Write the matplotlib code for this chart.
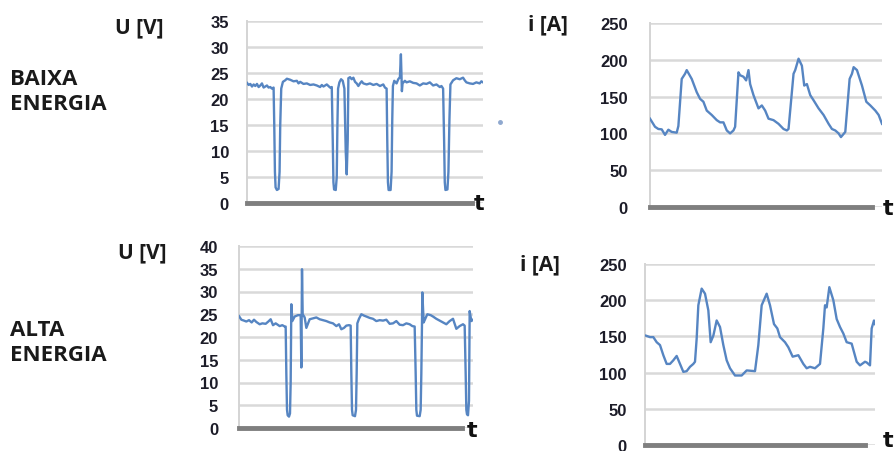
import matplotlib.pyplot as plt
from matplotlib.lines import Line2D

W, H = 895, 452

# --- data (t in arbitrary sample units) ---
t_u_baixa = [0, 5, 10, 15, 20, 25, 30, 35, 40, 45, 50, 55, 60, 65, 70, 75, 80, 82, 84, 86, 90, 95, 98, 100,
             103, 108, 115, 120, 130, 140, 150, 155, 160, 170, 180, 190, 200, 210, 220, 225, 230, 240, 250,
             255, 258, 260, 262, 267, 270, 272, 274, 278, 283, 288, 293, 297, 300, 303, 305, 310, 315, 320,
             325, 330, 335, 340, 345, 350, 360, 370, 380, 390, 400, 410, 415, 420, 422, 424, 426, 432, 435,
             437, 439, 443, 450, 455, 460, 463, 465, 466, 468, 475, 480, 490, 500, 510, 520, 530, 540, 550,
             560, 570, 580, 585, 590, 593, 595, 597, 603, 606, 609, 612, 620, 630, 640, 650, 655, 660, 670,
             680, 690, 700, 705, 710]
u_baixa = [23.1, 22.7, 22.9, 22.4, 22.8, 22.5, 22.9, 22.3, 22.6, 23.0, 22.2, 22.4, 22.6, 22.2, 22.3, 22.0,
           22.2, 15, 6, 3.0, 2.5, 2.7, 6, 15, 22.0, 23.3, 23.6, 23.9, 23.7, 23.4, 23.5, 23.0, 23.3, 22.9, 23.0,
           22.7, 22.8, 22.6, 22.3, 22.7, 22.4, 22.8, 22.2, 22.3, 12, 4, 2.6, 2.5, 5, 15, 22.0, 23.2, 23.8, 23.5,
           22.0, 10, 5.5, 12, 24.0, 24.2, 23.8, 24.1, 23.3, 23.0, 22.5, 23.0, 23.4, 23.0, 22.8, 23.0, 22.7,
           22.9, 22.5, 22.8, 22.2, 22.0, 12, 4, 2.5, 2.5, 6, 16, 22.5, 23.5, 23.0, 23.8, 24.2, 28.6, 24.0, 21.5,
           23.0, 23.5, 23.2, 23.4, 23.1, 23.0, 22.6, 23.0, 22.9, 23.2, 22.6, 22.8, 22.3, 22.5, 22.0, 12, 4,
           2.5, 2.6, 6, 16, 22.8, 23.6, 24.0, 23.8, 24.1, 23.6, 23.2, 23.0, 22.9, 23.2, 23.0, 23.4, 23.2]

t_i_baixa = [0, 15, 25, 35, 45, 55, 65, 80, 85, 95, 105, 110, 125, 140, 150, 160, 170, 185, 200, 210, 220,
             230, 240, 250, 255, 265, 270, 280, 288, 295, 300, 310, 325, 335, 345, 355, 370, 385, 400, 410,
             415, 430, 435, 445, 455, 462, 470, 480, 490, 505, 520, 535, 545, 555, 565, 572, 585, 598, 605,
             610, 620, 635, 648, 660, 675, 685, 695]
i_baixa = [120, 109, 106, 105.5, 98, 105, 102, 101, 110, 174, 181, 186, 174, 156, 147, 143, 131, 125, 118,
           115, 115, 104, 100, 104, 109, 183, 179, 177, 172, 186, 167, 152, 134, 138, 131, 120, 118, 113,
           106, 104, 106, 181, 186, 201.5, 192, 165, 167, 152, 145, 134, 125, 113, 106, 104, 100, 95, 102,
           174, 181, 190, 186, 165, 143, 138, 131, 125, 113]

t_u_alta = [0, 7, 15, 22, 30, 38, 45, 52, 62, 70, 80, 88, 95, 102, 110, 122, 130, 137, 140, 142, 144, 146,
            150, 153, 155, 157, 160, 167, 177, 185, 187, 189, 191, 197, 202, 212, 222, 232, 242, 252, 262,
            272, 282, 292, 300, 307, 315, 322, 330, 335, 337, 339, 341, 348, 351, 353, 355, 360, 367, 375,
            382, 392, 402, 412, 422, 432, 442, 452, 462, 472, 482, 492, 502, 512, 520, 527, 530, 532, 534,
            542, 545, 547, 549, 550, 554, 560, 565, 575, 582, 592, 602, 612, 622, 632, 642, 652, 662, 672,
            677, 680, 682, 684, 687, 690, 692, 697, 702]
u_alta = [24.6, 23.8, 23.6, 23.4, 23.7, 23.2, 23.8, 23.3, 22.8, 23.0, 22.9, 23.4, 23.9, 22.6, 23.0, 22.4,
          22.6, 22.3, 22.3, 12, 4, 2.8, 2.5, 3.2, 10, 27.2, 23.5, 24.5, 24.8, 24.8, 13.3, 34.9, 25, 24.3,
          22.0, 23.9, 24.1, 24.3, 23.9, 23.7, 23.5, 23.2, 23.0, 22.4, 22.8, 21.7, 22.0, 22.5, 22.6, 22.5,
          12, 4, 2.8, 2.6, 4, 12, 23.0, 24.0, 25.0, 24.7, 24.5, 24.2, 24.0, 23.5, 23.7, 23.6, 23.8, 22.9,
          23.0, 23.5, 22.7, 22.6, 23.0, 22.8, 22.4, 22.3, 12, 4, 2.7, 2.6, 4, 12, 23.0, 29.8, 23.2, 24.2,
          25.0, 24.8, 24.5, 24.0, 23.6, 23.2, 22.8, 23.5, 24.0, 21.8, 22.4, 22.8, 22.5, 12, 4, 3.0, 2.8, 6,
          25.7, 23.5, 23.8]

t_i_alta = [3, 15, 25, 35, 45, 55, 65, 75, 85, 95, 105, 115, 125, 135, 145, 150, 155, 160, 170, 180, 190,
            197, 205, 215, 225, 235, 245, 255, 270, 290, 305, 330, 340, 350, 365, 375, 387, 397, 405, 420,
            430, 443, 460, 475, 485, 495, 510, 525, 535, 540, 545, 553, 565, 575, 585, 595, 605, 620, 635,
            645, 660, 665, 675, 680, 687, 690]
i_alta = [151, 149, 149, 142, 138, 124, 112, 112, 117, 123, 112, 101, 102, 108, 112, 115, 147, 193, 216,
          209, 186, 142, 151, 172, 163, 138, 117, 106, 96, 96, 103, 102, 138, 193, 209, 193, 167, 161, 149,
          142, 135, 122, 124, 112, 106, 108, 106, 112, 161, 193, 190, 218, 200, 174, 163, 154, 142, 140,
          115, 110, 115, 114, 110, 161, 172, 167]

u_ticks_baixa = [0, 5, 10, 15, 20, 25, 30, 35]
u_ticks_alta = [0, 5, 10, 15, 20, 25, 30, 35, 40]
i_ticks = [0, 50, 100, 150, 200, 250]

LINE = '#5685c2'
GRID = '#d9d9d9'
TICK_COLOR = '#1c1c28'

fig = plt.figure(figsize=(W / 100, H / 100), dpi=100)


def px_axes(x0, x1, ytop, ybot):
    return fig.add_axes([x0 / W, 1 - ybot / H, (x1 - x0) / W, (ybot - ytop) / H])


def style(ax, t, y, ticks, xmax, pad):
    ax.plot(t, y, color=LINE, lw=1.7, zorder=3)
    ax.set_xlim(0, xmax)
    ax.set_ylim(ticks[0], ticks[-1])
    ax.set_yticks(ticks)
    ax.set_xticks([])
    ax.grid(axis='y', color=GRID, lw=1.8, zorder=0)
    for s in ['top', 'right']:
        ax.spines[s].set_visible(False)
    ax.spines['left'].set_color('#d4d4d4')
    ax.spines['left'].set_linewidth(1.4)
    ax.spines['bottom'].set_color('#7f7f7f')
    ax.spines['bottom'].set_linewidth(3.5)
    ax.spines['bottom'].set_bounds(0, xmax * 0.955)
    ax.tick_params(axis='y', length=0, pad=pad, labelsize=12, labelcolor=TICK_COLOR)
    for lab in ax.get_yticklabels():
        lab.set_fontweight('bold')
        lab.set_fontfamily('Liberation Sans')


ax1 = px_axes(247, 483, 22, 204)
style(ax1, t_u_baixa, u_baixa, u_ticks_baixa, 710, 13)
ax2 = px_axes(650, 882, 24, 208)
style(ax2, t_i_baixa, i_baixa, i_ticks, 695, 16)
ax3 = px_axes(239, 473, 247, 429)
style(ax3, t_u_alta, u_alta, u_ticks_alta, 702, 15)
ax4 = px_axes(645, 875, 265, 446)
style(ax4, t_i_alta, i_alta, i_ticks, 690, 13)


def ftext(x, y, s, **kw):
    fig.text(x / W, 1 - y / H, s, **kw)


lab_kw = dict(fontsize=15, fontweight='bold', family='Open Sans', color='#1a1a1a', va='center')
ftext(115, 28, 'U [V]', **lab_kw)
ftext(118, 253, 'U [V]', **lab_kw)
ftext(528, 25, 'i [A]', **lab_kw)
ftext(520, 265, 'i [A]', **lab_kw)

side_kw = dict(fontsize=16, fontweight='bold', family='Open Sans', color='#1a1a1a', va='center',
               linespacing=1.2)
ftext(10, 92, 'BAIXA\nENERGIA', **side_kw)
ftext(10, 343, 'ALTA\nENERGIA', **side_kw)

t_kw = dict(fontsize=16, fontweight='bold', family='DejaVu Sans', color='#111111', ha='center', va='center')
ftext(479, 204, 't', **t_kw)
ftext(888, 209, 't', **t_kw)
ftext(472, 431, 't', **t_kw)
ftext(888, 441, 't', **t_kw)

fig.add_artist(Line2D([500 / W], [1 - 123 / H], marker='o', ms=2.5, color='#8fa8cf', lw=0))

fig.savefig('out.png', dpi=100)
